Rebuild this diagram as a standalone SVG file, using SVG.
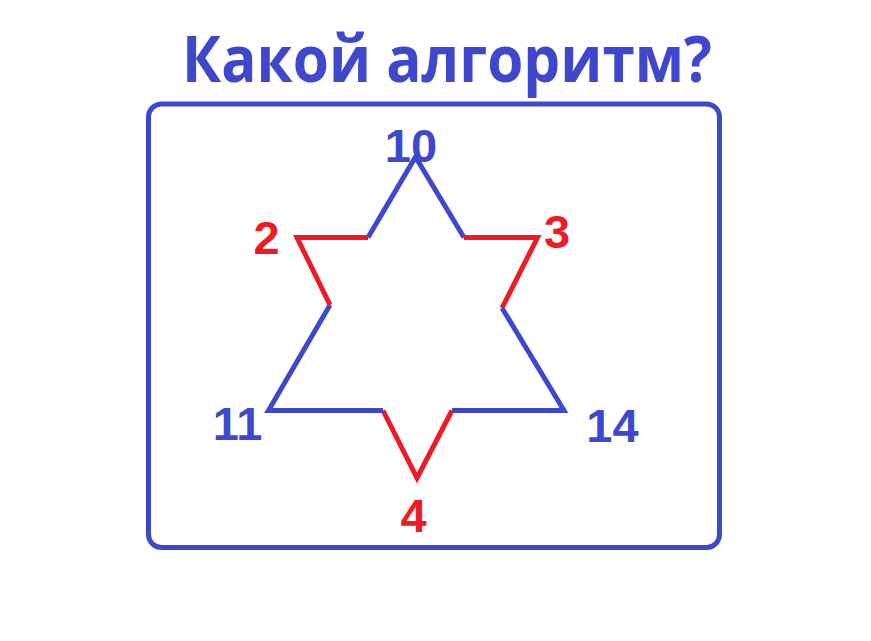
<svg xmlns="http://www.w3.org/2000/svg" width="871" height="641" viewBox="0 0 871 641">
<style>
.b{stroke:#3F48CC;stroke-width:5;fill:none;stroke-linejoin:miter;stroke-linecap:butt}
.r{stroke:#ED1C24;stroke-width:5;fill:none;stroke-linejoin:miter;stroke-linecap:butt}
.lb{font-family:"Liberation Sans",Arial,sans-serif;font-weight:bold;font-size:47px;fill:#3F48CC;text-anchor:middle}
.lr{font-family:"Liberation Sans",Arial,sans-serif;font-weight:bold;font-size:47px;fill:#ED1C24;text-anchor:middle}
</style>
<rect width="871" height="641" fill="#fff"/>
<text x="447" y="82" font-family="'Open Sans','Liberation Sans',sans-serif" font-weight="bold" font-size="64" fill="#3F48CC" text-anchor="middle" textLength="530" lengthAdjust="spacingAndGlyphs">Какой алгоритм?</text>
<rect id="frame" x="148.5" y="104" width="571" height="443.5" rx="13" ry="13" fill="none" stroke="#3F48CC" stroke-width="5"/>
<g id="connectors">
<polyline class="b" points="368,237.5 415.5,157 464,237.5"/>
<polyline class="r" points="464,237.5 537.5,237.5 502,308"/>
<polyline class="b" points="502,308 564,410.5 452,410.5"/>
<polyline class="r" points="452,410.5 417,478 383,410.5"/>
<polyline class="b" points="383,410.5 268.5,410.5 330,305"/>
<polyline class="r" points="330,305 297,237.5 368,237.5"/>
</g>
<g id="n10"><text class="lb" x="411" y="162">10</text></g>
<g id="n2"><text class="lr" x="266.5" y="254">2</text></g>
<g id="n3"><text class="lr" x="557" y="248">3</text></g>
<g id="n11"><text class="lb" x="237.5" y="440">11</text></g>
<g id="n14"><text class="lb" x="612.5" y="442">14</text></g>
<g id="n4"><text class="lr" x="413.5" y="532">4</text></g>
</svg>
